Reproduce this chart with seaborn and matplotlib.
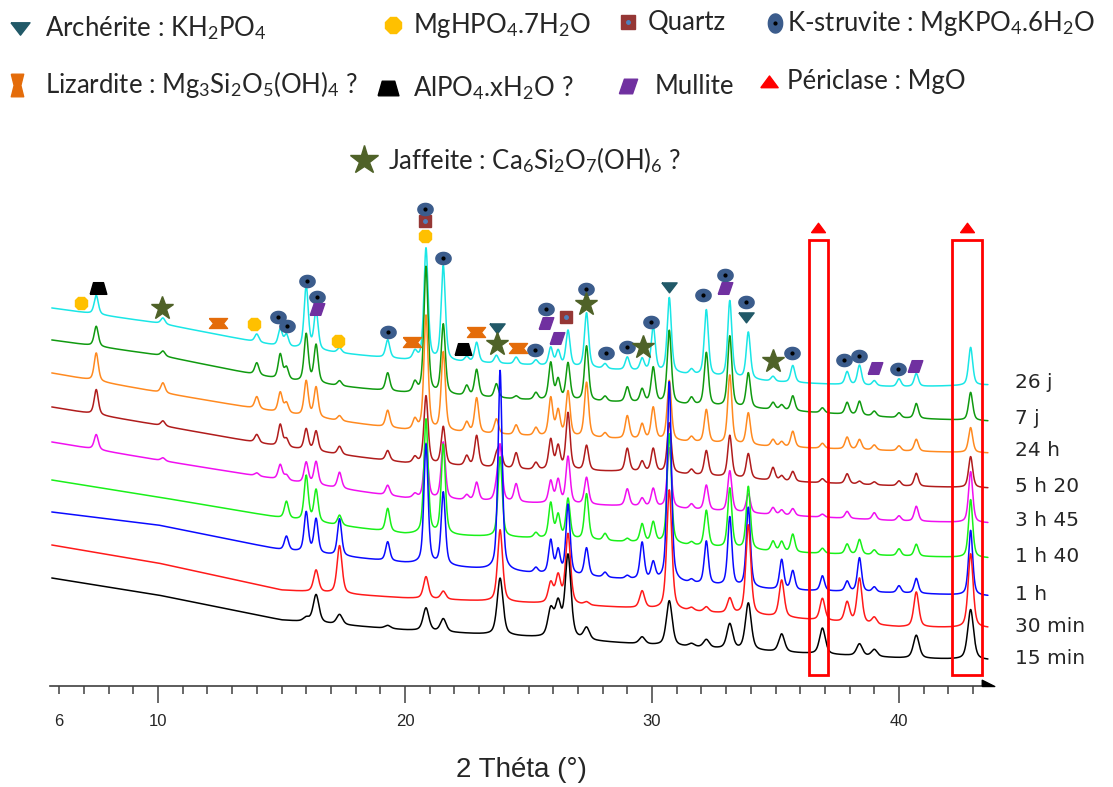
import numpy as np
import pandas as pd
import seaborn as sns
import matplotlib.pyplot as plt
from matplotlib.path import Path
from matplotlib.patches import Rectangle

# XRD scans, top of the stack first (y in px above the axis)
samples = ["26 j", "7 j", "24 h", "5 h 20", "3 h 45", "1 h 40", "1 h", "30 min", "15 min"]
colors = ["#1AE6E6", "#109A10", "#FF8A20", "#B01C1C", "#F010F0", "#19F019", "#0A0AFF", "#FF1A1A", "#000000"]
peak_fwhm = [0.2, 0.2, 0.2, 0.2, 0.2, 0.2, 0.2, 0.24, 0.28]

# background level of each scan
bg_pos = [5.7, 10, 15, 20, 25, 30, 35, 40, 43.6]
bg_26j = [378, 363, 339, 326, 321, 314, 304, 299, 301]
bg_7j = [346, 331, 306, 293, 286, 283, 276, 268, 265]
bg_24h = [313, 294, 273, 256, 250, 246, 239, 235, 233]
bg_5h20 = [279, 261, 239, 223, 216, 214, 205, 200, 198]
bg_3h45 = [244, 226, 206, 188, 183, 179, 171, 165, 163]
bg_1h40 = [206, 189, 168, 152, 148, 143, 134, 130, 128]
bg_1h = [174, 161, 136, 123, 113, 105, 96, 93, 90]
bg_30min = [141, 123, 96, 88, 83, 77, 69, 59, 58]
bg_15min = [108, 91, 66, 56, 49, 41, 34, 28, 26]

# reflections (2 theta) and their height in each scan
peak_pos = [7.5, 10.2, 14.0, 14.95, 15.2, 16.0, 16.4, 17.35, 19.3, 20.4,
            20.85, 21.55, 22.5, 22.9, 23.7, 23.85, 24.5, 25.3, 25.9, 26.2,
            26.6, 27.35, 28.1, 29.0, 29.6, 30.05, 30.7, 31.6, 32.2, 33.15,
            33.9, 34.9, 35.25, 35.7, 36.9, 37.9, 38.4, 39.0, 40.0, 40.7, 42.9]
h_26j = [19, 6, 8, 17, 12, 63, 39, 5, 18, 8, 112, 95, 5, 20, 8, 0, 7, 5, 18, 15,
         36, 55, 5, 13, 12, 45, 75, 5, 66, 77, 47, 5, 0, 17, 0, 13, 20, 5, 8, 13, 38]
h_7j = [20, 5, 12, 25, 12, 48, 38, 5, 18, 10, 127, 70, 10, 27, 14, 0, 3, 7, 37, 20,
        37, 55, 5, 15, 13, 35, 73, 7, 53, 71, 35, 7, 5, 15, 5, 12, 14, 5, 5, 15, 28]
h_24h = [28, 10, 12, 20, 10, 35, 30, 5, 17, 10, 115, 79, 10, 35, 15, 0, 10, 8, 38, 25,
         45, 55, 5, 23, 15, 32, 60, 5, 33, 69, 32, 7, 5, 16, 5, 12, 10, 5, 5, 12, 25]
h_5h20 = [25, 5, 8, 22, 8, 21, 20, 8, 10, 6, 68, 38, 10, 31, 11, 20, 16, 7, 30, 23,
          57, 25, 0, 23, 10, 23, 50, 5, 25, 42, 25, 13, 5, 10, 4, 10, 3, 3, 5, 13, 31]
h_3h45 = [15, 3, 3, 15, 5, 21, 23, 16, 10, 4, 55, 57, 5, 18, 10, 55, 18, 0, 22, 23,
          47, 27, 0, 17, 8, 18, 60, 5, 25, 41, 19, 7, 5, 7, 3, 7, 0, 7, 5, 15, 51]
h_1h40 = [0, 0, 0, 0, 17, 45, 32, 10, 23, 0, 115, 90, 0, 0, 0, 80, 0, 5, 35, 23,
          40, 46, 7, 3, 18, 20, 110, 3, 36, 60, 63, 10, 10, 18, 5, 10, 15, 5, 7, 12, 58]
h_1h = [0, 0, 0, 0, 14, 40, 34, 37, 19, 0, 120, 73, 0, 0, 0, 200, 0, 5, 33, 23,
        70, 28, 5, 3, 37, 17, 200, 3, 43, 69, 80, 0, 30, 19, 15, 10, 34, 5, 7, 15, 65]
h_30min = [0, 0, 0, 0, 0, 0, 22, 48, 0, 0, 22, 8, 0, 0, 0, 72, 0, 0, 20, 27,
           70, 3, 0, 0, 17, 0, 120, 3, 5, 15, 90, 0, 37, 0, 22, 20, 45, 7, 0, 35, 74]
h_15min = [0, 0, 0, 0, 0, 4, 28, 10, 3, 0, 23, 13, 0, 0, 0, 57, 0, 0, 27, 33,
           83, 12, 0, 0, 7, 0, 45, 3, 8, 25, 47, 0, 18, 0, 26, 0, 12, 7, 0, 23, 50]

backgrounds = [bg_26j, bg_7j, bg_24h, bg_5h20, bg_3h45, bg_1h40, bg_1h, bg_30min, bg_15min]
heights = [h_26j, h_7j, h_24h, h_5h20, h_3h45, h_1h40, h_1h, h_30min, h_15min]

# phase identification marks: (2 theta, height)
archerite = [(23.72, 358), (30.69, 399), (33.81, 369)]
mghpo4 = [(6.88, 383), (13.89, 362), (17.29, 345), (20.81, 450)]
quartz = [(20.81, 465), (26.52, 369)]
kstruvite = [(14.86, 369), (15.22, 360), (16.03, 405), (16.44, 389), (19.31, 354),
             (20.81, 477), (21.54, 428), (25.26, 336), (25.71, 377), (27.33, 397),
             (28.14, 333), (28.99, 339), (29.96, 364), (32.06, 391), (32.96, 411),
             (33.81, 384), (35.67, 333), (37.77, 326), (38.38, 330), (39.96, 317)]
lizardite = [(12.43, 363), (20.28, 344), (22.87, 354), (24.57, 338)]
alpo4 = [(7.57, 398), (22.35, 337)]
mullite = [(16.44, 377), (25.71, 363), (26.15, 348), (32.96, 398), (39.03, 318), (40.65, 320)]
periclase = [(36.72, 458), (42.75, 458)]
jaffeite = [(10.16, 378), (23.72, 342), (27.33, 382), (29.64, 339), (34.9, 325)]
mgo_windows = [(36.35, 37.12), (42.15, 43.35)]
window_y = (11, 446)

# ---------------------------------------------------------------- curves
two_theta = np.linspace(5.7, 43.6, 4000)
frames = []
for name, bg, hs, w in zip(samples, backgrounds, heights, peak_fwhm):
    y = np.interp(two_theta, bg_pos, bg)
    for p, h in zip(peak_pos, hs):
        if h:
            d = ((two_theta - p) / (w / 2)) ** 2
            y = y + h * (0.5 / (1 + d) + 0.5 * np.exp(-np.log(2) * d))
    frames.append(pd.DataFrame({"2theta": two_theta, "I": y, "sample": name}))
df = pd.concat(frames)

sns.set_style("white")
plt.rcParams["mathtext.fontset"] = "custom"
plt.rcParams["mathtext.rm"] = "Lato"
plt.rcParams["mathtext.it"] = "Lato:italic"
plt.rcParams["mathtext.bf"] = "Lato:bold"

fig = plt.figure(figsize=(11.13, 7.87), dpi=100)
ax = fig.add_axes([0, 0, 1, 1])
ax.set_xlim(3.603, 48.664)
ax.set_ylim(-101, 686)

sns.lineplot(data=df, x="2theta", y="I", hue="sample", hue_order=samples,
             palette=colors, estimator=None, sort=False, legend=False, lw=1.1, ax=ax)

# sample names at the right end
for name, bg in zip(samples, backgrounds):
    ax.text(44.7, bg[-1] + 2, name, fontsize=14.5, family="DejaVu Sans", va="center", ha="left")

# boxes around the MgO reflections
for lo, hi in mgo_windows:
    ax.add_patch(Rectangle((lo, window_y[0]), hi - lo, window_y[1] - window_y[0],
                           fill=False, ec="#FF0000", lw=2, zorder=5))

# ---------------------------------------------------------------- markers
tri_down = Path([(-1, 0.6), (1, 0.6), (0, -0.7), (-1, 0.6)])
tri_up = Path([(-1, -0.6), (1, -0.6), (0, 0.75), (-1, -0.6)])
bowtie = Path([(-1, 0.55), (1, 0.55), (0.55, 0), (1, -0.55), (-1, -0.55), (-0.55, 0), (-1, 0.55)])
bowtie_tall = Path([(-0.55, 1), (0.55, 1), (0.3, 0), (0.55, -1), (-0.55, -1), (-0.3, 0), (-0.55, 1)])
trapeze = Path([(-1, -0.7), (1, -0.7), (0.6, 0.7), (-0.6, 0.7), (-1, -0.7)])
parallel = Path([(-1, -0.8), (0.45, -0.8), (1, 0.8), (-0.45, 0.8), (-1, -0.8)])
t = np.linspace(0, 2 * np.pi, 41)
ellipse = Path(np.column_stack([np.cos(t), 0.8 * np.sin(t)]))
oval_tall = Path(np.column_stack([0.75 * np.cos(t), np.sin(t)]))

styles = {
    "archerite": dict(marker=tri_down, color="#215968", ms=11),
    "mghpo4": dict(marker="8", color="#FFC000", ms=10),
    "quartz": dict(marker="s", color="#953735", ms=8.5),
    "kstruvite": dict(marker=ellipse, color="#3B5C8C", ms=11),
    "lizardite": dict(marker=bowtie, color="#E46C0A", ms=13),
    "alpo4": dict(marker=trapeze, color="#000000", ms=12),
    "mullite": dict(marker=parallel, color="#7030A0", ms=10.5),
    "periclase": dict(marker=tri_up, color="#FF0000", ms=10),
    "jaffeite": dict(marker="*", color="#4F6228", ms=17),
}
centre_dot = {"kstruvite": ("#000000", 2), "quartz": ("#4F81BD", 2.5)}


def put(kind, xs, ys, marker=None, ms=None, **kw):
    st = styles[kind]
    ax.plot(xs, ys, ls="none", marker=marker if marker is not None else st["marker"],
            color=st["color"], mec=st["color"], ms=ms or st["ms"], zorder=6,
            clip_on=False, **kw)
    if kind in centre_dot:
        c, s = centre_dot[kind]
        ax.plot(xs, ys, ls="none", marker="o", color=c, mec=c, ms=s, zorder=7,
                clip_on=False, **kw)


for kind, pts in [("archerite", archerite), ("mghpo4", mghpo4), ("quartz", quartz),
                  ("kstruvite", kstruvite), ("lizardite", lizardite), ("alpo4", alpo4),
                  ("mullite", mullite), ("periclase", periclase), ("jaffeite", jaffeite)]:
    put(kind, [p[0] for p in pts], [p[1] for p in pts])

# ---------------------------------------------------------------- legend (top)
W, H = 1113, 787
legend_items = [
    ("archerite", 20, 28, 45, r"Archérite : KH$_2$PO$_4$"),
    ("mghpo4", 393, 25, 413, r"MgHPO$_4$.7H$_2$O"),
    ("quartz", 628, 22, 648, "Quartz"),
    ("kstruvite", 775, 23, 787, r"K-struvite : MgKPO$_4$.6H$_2$O"),
    ("lizardite", 17, 85, 45, r"Lizardite : Mg$_3$Si$_2$O$_5$(OH)$_4$ ?"),
    ("alpo4", 388, 88, 413, r"AlPO$_4$.xH$_2$O ?"),
    ("mullite", 628, 86, 655, "Mullite"),
    ("periclase", 769, 82, 787, "Périclase : MgO"),
    ("jaffeite", 364, 160, 388, r"Jaffeite : Ca$_6$Si$_2$O$_7$(OH)$_6$ ?"),
]
legend_marker = {"lizardite": bowtie_tall, "kstruvite": oval_tall}
for kind, mx, my, tx, label in legend_items:
    put(kind, [mx / W], [1 - my / H], marker=legend_marker.get(kind),
        ms=styles[kind]["ms"] * 1.25, transform=fig.transFigure)
    fig.text(tx / W, 1 - my / H, label, fontsize=18.5, family="Lato", va="center", ha="left")

# ---------------------------------------------------------------- axis
for side in ["left", "right", "top"]:
    ax.spines[side].set_visible(False)
ax.spines["bottom"].set_position(("data", 0))
ax.spines["bottom"].set_bounds(5.64, 43.56)
ax.spines["bottom"].set_color("#404040")
ax.spines["bottom"].set_linewidth(1.2)
ax.plot([43.6], [0], ls="none", marker=Path([(-1, 0), (-1, 1), (1, 0), (-1, 0)]),
        color="#000000", ms=9, clip_on=False, zorder=6)

ax.set_yticks([])
ax.set_xticks([10, 20, 30, 40])
ax.set_xticklabels(["10", "20", "30", "40"])
minor_pos = [v for v in range(6, 44) if v % 10]
ax.set_xticks(minor_pos, labels=["6" if v == 6 else "" for v in minor_pos], minor=True)
ax.tick_params(axis="x", which="major", direction="out", length=12, width=1.1,
               color="#404040", pad=8.5, labelsize=12)
ax.tick_params(axis="x", which="minor", direction="out", length=6, width=1.1,
               color="#404040", pad=14.5, labelsize=12)
ax.tick_params(axis="x", which="both", bottom=True)
for lab in ax.get_xticklabels(which="both"):
    lab.set_family("Liberation Sans")
ax.set_xlabel("")
ax.set_ylabel("")
fig.text(521 / W, 1 - 770 / H, "2 Théta (°)", fontsize=20, family="Liberation Sans",
         ha="center", va="center")

fig.savefig("out.png", dpi=100)
